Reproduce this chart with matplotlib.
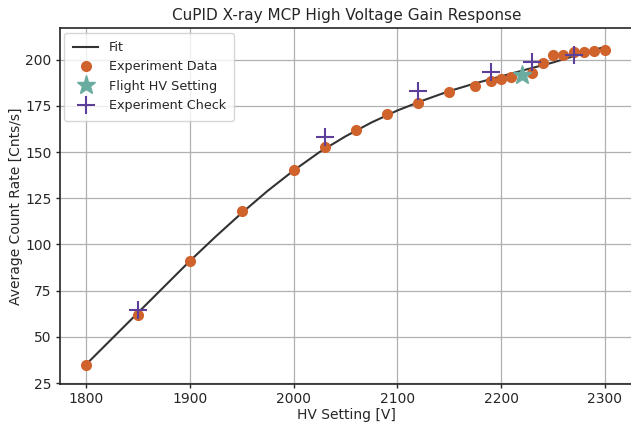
import matplotlib
matplotlib.use("Agg")
import matplotlib.pyplot as plt

# Fit curve
fit_hv = [1800, 1825, 1850, 1875, 1900, 1925, 1950, 1975, 2000, 2025, 2050,
          2075, 2100, 2125, 2150, 2175, 2200, 2225, 2250, 2275, 2300]
fit_rate = [35, 49, 63, 77, 91, 104.3, 117, 129, 140, 150, 158.5,
            166, 172.5, 178, 183, 187.2, 191, 194.8, 198.5, 202.8, 207]

# Experiment data
exp_hv = [1800, 1850, 1900, 1950, 2000, 2030, 2060, 2090, 2120, 2150, 2175,
          2190, 2200, 2210, 2230, 2240, 2250, 2260, 2270, 2280, 2290, 2300]
exp_rate = [35, 62, 91, 118, 140.5, 153, 162, 170.5, 176.8, 182.3, 185.9,
            188.6, 189.5, 190.4, 192.8, 198, 202.3, 202.7, 204, 204.3, 204.6, 205.2]

# Flight HV setting
flight_hv = [2220]
flight_rate = [191.8]

# Experiment check
check_hv = [1850, 2030, 2120, 2190, 2230, 2270]
check_rate = [64.5, 158.3, 183.2, 193.6, 198.6, 202.3]

plt.rcParams['font.family'] = ['DejaVu Sans']
fig = plt.figure(figsize=(6.31, 4.25), dpi=100)
ax = fig.add_axes([0.0951, 0.0965, 0.9049 + 0.003, 0.8369])

text_c = '#262626'
ax.plot(fit_hv, fit_rate, color='#333333', lw=1.5, label='Fit', zorder=2)
ax.plot(exp_hv, exp_rate, 'o', color='#d0622c', ms=7, label='Experiment Data', zorder=3)
ax.plot(flight_hv, flight_rate, '*', color='#6aada0', ms=14, label='Flight HV Setting', zorder=4)
ax.plot(check_hv, check_rate, '+', color='#5b3f9b', ms=13, mew=1.5, label='Experiment Check', zorder=5)

ax.set_xlim(1775, 2327)
ax.set_ylim(24.5, 217)
ax.set_xticks([1800, 1900, 2000, 2100, 2200, 2300])
ax.set_yticks([25, 50, 75, 100, 125, 150, 175, 200])
ax.grid(True, color='#b0b0b0', lw=0.9)
ax.set_axisbelow(True)
for s in ax.spines.values():
    s.set_color('#262626')
    s.set_linewidth(1.2)
ax.tick_params(direction='out', length=3, width=1, pad=3, colors=text_c, labelsize=10)
ax.set_xlabel('HV Setting [V]', color=text_c, fontsize=10, labelpad=1)
ax.set_ylabel('Average Count Rate [Cnts/s]', color=text_c, fontsize=10, labelpad=2)
ax.set_title('CuPID X-ray MCP High Voltage Gain Response', color=text_c, fontsize=11)
leg = ax.legend(loc='upper left', fontsize=9.2, framealpha=0.8, edgecolor='#cccccc',
                labelspacing=0.5, borderpad=0.65, handletextpad=0.8, borderaxespad=0.35)
for t in leg.get_texts():
    t.set_color(text_c)

fig.savefig('out.png', dpi=100)
